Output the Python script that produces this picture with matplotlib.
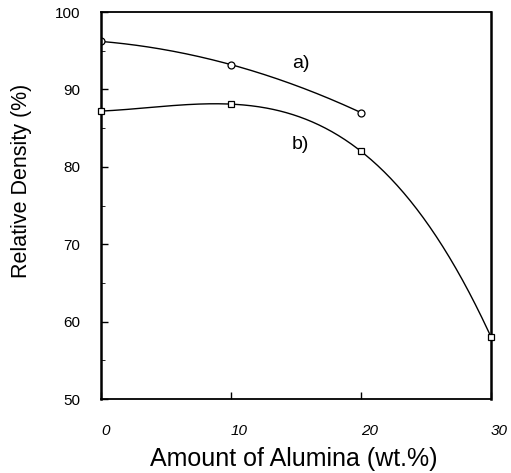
import numpy as np
import matplotlib
matplotlib.use("Agg")
import matplotlib.pyplot as plt

plt.rcParams['font.family'] = ['Liberation Sans', 'DejaVu Sans']

x_a = [0, 10, 20]
y_a = [96.2, 93.2, 87.0]
x_b = [0, 10, 20, 30]
y_b = [87.2, 88.1, 82.0, 58.0]
xticks = [0, 10, 20, 30]
xticklabels = ["0", "10", "20", "30"]
yticks = [50, 60, 70, 80, 90, 100]

fig = plt.figure(figsize=(5.11, 4.73), dpi=100)
ax = fig.add_axes([0.1977, 0.1564, 0.7633, 0.8182])

# smooth curves through the data points
ca = np.polyfit(x_a, y_a, 2)
xa_s = np.linspace(min(x_a), max(x_a), 200)
ax.plot(xa_s, np.polyval(ca, xa_s), color='black', lw=1.0)
ax.plot(x_a, y_a, 'o', ms=5, mfc='white', mec='black', mew=0.9)

cb = np.polyfit(x_b, y_b, 3)
xb_s = np.linspace(min(x_b), max(x_b), 300)
ax.plot(xb_s, np.polyval(cb, xb_s), color='black', lw=1.0)
ax.plot(x_b, y_b, 's', ms=5, mfc='white', mec='black', mew=0.9, clip_on=False, zorder=5)

ax.text(15.4, 93.4, "a)", fontsize=14, ha='center', va='center')
ax.text(15.3, 82.9, "b)", fontsize=14, ha='center', va='center')

ax.set_xlim(0, 30)
ax.set_ylim(50, 100)
ax.set_xticks(xticks)
ax.set_xticklabels(xticklabels, fontstyle='italic', fontsize=11)
for lbl in ax.get_xticklabels():
    lbl.set_horizontalalignment('left')
ax.set_yticks(yticks)
ax.set_yticks([55, 65, 75, 85, 95], minor=True)
ax.tick_params(axis='x', direction='in', length=5, width=1, labelsize=11, pad=18)
ax.tick_params(axis='y', direction='in', length=5, width=1, labelsize=11, pad=15)
ax.tick_params(axis='both', which='minor', direction='in', length=3)
for s in ax.spines.values():
    s.set_linewidth(1.3)
ax.spines['left'].set_linewidth(1.8)
ax.spines['right'].set_linewidth(1.8)

ax.set_ylabel("Relative Density (%)", fontsize=15.5)
ax.yaxis.set_label_coords(-0.177, 0.563)
ax.set_xlabel("Amount of Alumina (wt.%)", fontsize=18)
ax.xaxis.set_label_coords(0.495, -0.125)

fig.savefig("out.png", dpi=100)
